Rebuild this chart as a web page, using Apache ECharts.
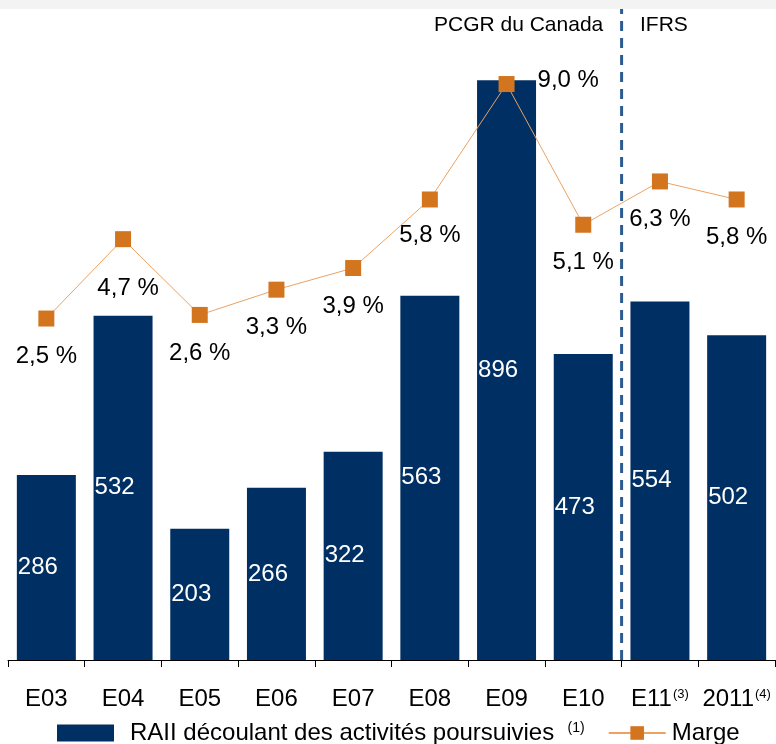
<!DOCTYPE html>
<html>
<head>
<meta charset="utf-8">
<script src="https://cdn.jsdelivr.net/npm/echarts@6/dist/echarts.min.js"></script>
<style>
  html, body { margin: 0; padding: 0; background: #fff; }
  #chart { width: 776px; height: 744px; background: linear-gradient(#f3f3f3 0px, #f3f3f3 9px, #ffffff 9px); }
</style>
</head>
<body>
<div id="chart"></div>
<script>
// ---- data ----
const categories = ['E03', 'E04', 'E05', 'E06', 'E07', 'E08', 'E09', 'E10', 'E11', '2011'];
const categoryNotes = ['', '', '', '', '', '', '', '', '(3)', '(4)'];
const raii = [286, 532, 203, 266, 322, 563, 896, 473, 554, 502];
const marge = [2.5, 4.7, 2.6, 3.3, 3.9, 5.8, 9.0, 5.1, 6.3, 5.8];
const separatorPosition = 7.5; // between E10 and E11
const periodLabels = ['PCGR du Canada', 'IFRS'];
const seriesNames = ['RAII découlant des activités poursuivies', 'Marge'];
const legendNote = '(1)';

const FONT = '"Liberation Sans", Arial, Helvetica, sans-serif';
const BAR_COLOR = '#003063';
const MARKER_COLOR = '#d3751f';
const LINE_COLOR = '#eba262';

const chart = echarts.init(document.getElementById('chart'), null, { renderer: 'canvas' });

const labelOverrides = {
  1: { distance: 29, offset: [5, 0] },
  5: { distance: 16 },
  6: { position: 'right', distance: 23, offset: [0, -4] }
};

const fmtPct = v => v.toFixed(1).replace('.', ',') + ' %';

const lineData = marge.map((v, i) => {
  const o = { value: v };
  if (labelOverrides[i]) o.label = labelOverrides[i];
  return o;
});

const option = {
  animation: false,
  textStyle: { fontFamily: FONT },
  title: [
    { text: periodLabels[0], left: 434, top: 15, padding: 0,
      textStyle: { fontFamily: FONT, fontSize: 21, fontWeight: 'normal', color: '#000' } },
    { text: periodLabels[1], left: 640, top: 15, padding: 0,
      textStyle: { fontFamily: FONT, fontSize: 21, fontWeight: 'normal', color: '#000' } }
  ],
  grid: { left: 8, right: 1, top: 9, bottom: 84, containLabel: false },
  legend: {
    left: 57, top: 721,
    itemWidth: 57, itemHeight: 17, itemGap: 23,
    padding: 0,
    data: [
      { name: seriesNames[0], icon: 'rect', textStyle: { padding: [0, 0, 0, 11] } },
      { name: seriesNames[1] }
    ],
    formatter: name => name === seriesNames[0] ? name + '  {sup|' + legendNote + '}' : name,
    textStyle: {
      fontFamily: FONT, fontSize: 24, color: '#000', padding: [0, 0, 0, 1],
      rich: { sup: { fontSize: 14, verticalAlign: 'top', padding: [0, 0, 8, 0], fontFamily: FONT, color: '#000' } }
    }
  },
  xAxis: [
    {
      type: 'category', data: categories, boundaryGap: true,
      axisLine: { lineStyle: { color: '#000', width: 1 } },
      axisTick: { show: true, length: 7, interval: 0, lineStyle: { color: '#000' } },
      axisLabel: {
        interval: 0, margin: 27, fontSize: 24, color: '#000', fontFamily: FONT,
        formatter: (v, i) => categoryNotes[i] ? v + '{sup|' + categoryNotes[i] + '}' : v,
        rich: { sup: { fontSize: 13, color: '#000', fontFamily: FONT, padding: [0, 0, 10, 1] } }
      }
    },
    { type: 'value', min: -0.5, max: 9.5, show: false }
  ],
  yAxis: [
    { type: 'value', min: 0, max: 1006, show: false },
    { type: 'value', min: -6.965, max: 11.08, show: false },
    { type: 'value', min: 0, max: 1, show: false }
  ],
  series: [
    {
      name: seriesNames[0], type: 'bar', data: raii, barWidth: 59,
      itemStyle: { color: BAR_COLOR },
      label: { show: true, position: 'insideLeft', distance: 1, color: '#fff', fontSize: 24, fontFamily: FONT },
      z: 2
    },
    {
      name: 'separator', type: 'line', xAxisIndex: 1, yAxisIndex: 2,
      data: [[separatorPosition, 0], [separatorPosition, 1]],
      symbol: 'none', silent: true,
      lineStyle: { color: '#2c5a92', width: 3, type: [10, 7] },
      z: 3
    },
    {
      name: seriesNames[1], type: 'line', yAxisIndex: 1, data: lineData,
      symbol: 'rect', symbolSize: 16,
      itemStyle: { color: MARKER_COLOR },
      lineStyle: { color: LINE_COLOR, width: 1 },
      label: { show: true, position: 'bottom', distance: 18, color: '#000', fontSize: 24, fontFamily: FONT,
        formatter: p => fmtPct(p.value) },
      z: 4
    }
  ]
};

chart.setOption(option);
</script>
</body>
</html>
